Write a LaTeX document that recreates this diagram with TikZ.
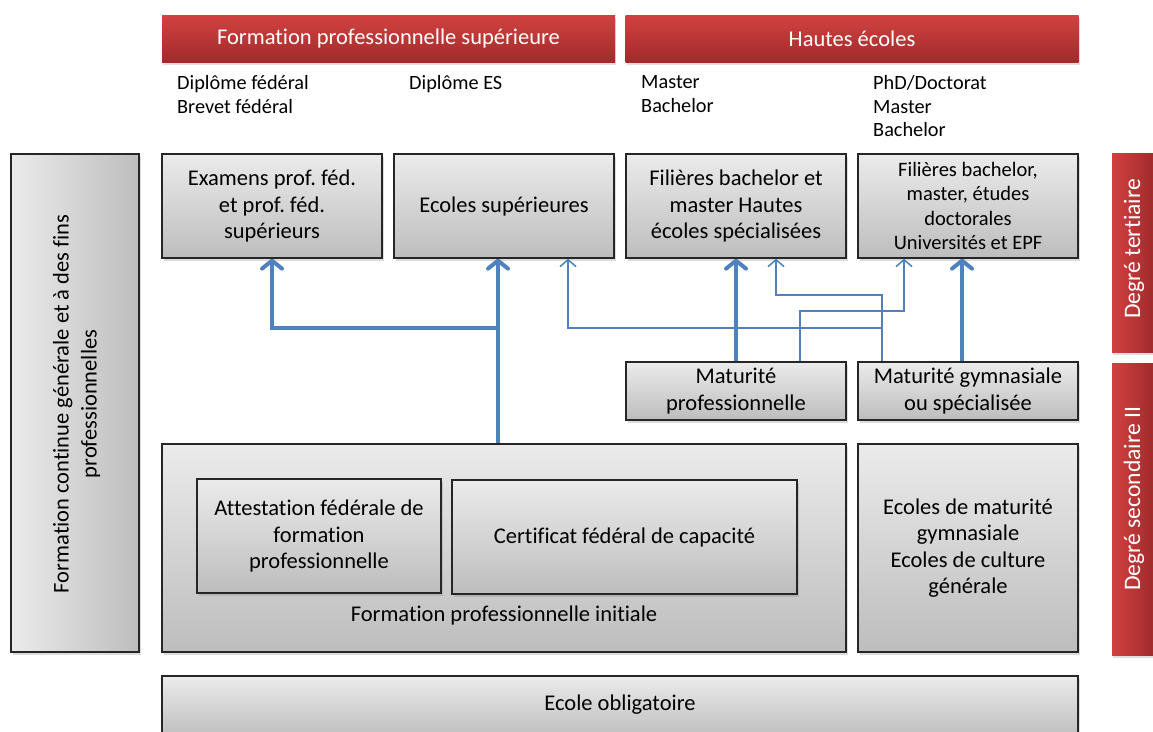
\documentclass[tikz,border=0pt]{standalone}
\usepackage{fontspec}
\setmainfont{Carlito}[Ligatures=NoCommon]
\frenchspacing
\usetikzlibrary{shadows,arrows.meta}
\definecolor{gtop}{HTML}{EBEBEB}
\definecolor{gbot}{HTML}{BDBDBD}
\definecolor{rtop}{HTML}{D24141}
\definecolor{rbot}{HTML}{A22B2B}
\definecolor{ablue}{HTML}{4F81BD}
\begin{document}
\begin{tikzpicture}[x=1pt,y=-1pt,
  every node/.style={font=\fontsize{22.5}{26.5}\selectfont, inner sep=0pt, align=center},
  gbox/.style={draw=black!85, line width=1.3pt, top color=gtop, bottom color=gbot,
    drop shadow={shadow xshift=1.5pt, shadow yshift=-3pt, opacity=0.28}},
  vbox/.style={draw=black!85, line width=1.3pt, left color=gtop, right color=gbot,
    drop shadow={shadow xshift=1.5pt, shadow yshift=-3pt, opacity=0.28}},
  hbar/.style={top color=rtop, bottom color=rbot, text=white,
    drop shadow={shadow xshift=1pt, shadow yshift=-3pt, opacity=0.25}},
  sbar/.style={left color=rtop, right color=rbot,
    drop shadow={shadow xshift=1pt, shadow yshift=-3pt, opacity=0.25}},
  stxt/.style={text=white, font=\fontsize{23.6}{26}\selectfont},
  lbl/.style={align=left, font=\fontsize{20.3}{23.8}\selectfont},
  thk/.style={draw=ablue, line width=4pt, -{Straight Barb[length=8pt,width=20pt,round]}},
  thn/.style={draw=ablue, line width=1.5pt, -{Straight Barb[length=7pt,width=16pt]}},
]
\useasboundingbox (0,0) rectangle (1153,731);
\clip (0,0) rectangle (1153,731);

% header bars
\node[hbar, minimum width=453pt, minimum height=47pt] (hfps) at (388.5,38.5) {Formation professionnelle supérieure};
\node[hbar, minimum width=453pt, minimum height=47pt] (hhe) at (852,38.5) {Hautes écoles};

% degree labels
\node[lbl, anchor=north west] (t1) at (177,75) {Diplôme fédéral\\Brevet fédéral};
\node[lbl, anchor=north west] (t2) at (409,75) {Diplôme ES};
\node[lbl, anchor=north west] (t3) at (641,75) {Master\\Bachelor};
\node[lbl, anchor=north west] (t4) at (873,75) {PhD/Doctorat\\Master\\Bachelor};

% side bars
\node[sbar, minimum width=41pt, minimum height=199pt] (sb1) at (1132.5,252.5) {};
\node[stxt] (sb1t) at (1134,249) {\rotatebox{90}{Degré tertiaire}};
\node[sbar, minimum width=41pt, minimum height=292pt] (sb2) at (1132.5,509) {};
\node[stxt] (sb2t) at (1134,499) {\rotatebox{90}{Degré secondaire II}};

% left box
\node[vbox, minimum width=128pt, minimum height=498pt] (fc) at (75,403) {};
\node (fct) at (77,404) {\rotatebox{90}{\fontsize{22.5}{28}\selectfont\begin{tabular}{@{}c@{}}Formation continue générale et à des fins\\professionnelles\end{tabular}}};

% tertiary boxes
\node[gbox, minimum width=220pt, minimum height=104pt] (ex) at (272,206) {Examens prof. féd.\\et prof. féd.\\supérieurs};
\node[gbox, minimum width=220pt, minimum height=104pt] (es) at (504,206) {Ecoles supérieures};
\node[gbox, minimum width=220pt, minimum height=104pt] (hes) at (736,206) {Filières bachelor et\\master Hautes\\écoles spécialisées};
\node[gbox, minimum width=220pt, minimum height=104pt, font=\fontsize{20.5}{24.5}\selectfont] (uni) at (968,206) {Filières bachelor,\\master, études\\doctorales\\Universités et EPF};

% maturity boxes
\node[gbox, minimum width=220pt, minimum height=58pt] (mp) at (736,391) {Maturité\\professionnelle};
\node[gbox, minimum width=220pt, minimum height=58pt] (mg) at (968,391) {Maturité gymnasiale\\ou spécialisée};

% secondary II
\node[gbox, minimum width=684pt, minimum height=208pt] (fpi) at (504,548) {};
\node (fpil) at (504,615) {Formation professionnelle initiale};
\node[gbox, minimum width=244pt, minimum height=114pt] (att) at (319,536) {Attestation fédérale de\\formation\\professionnelle};
\node[gbox, minimum width=345pt, minimum height=114pt] (cfc) at (624.5,537) {Certificat fédéral de capacité};
\node[gbox, minimum width=220pt, minimum height=208pt] (em) at (968,548) {Ecoles de maturité\\gymnasiale\\Ecoles de culture\\générale};

% compulsory school
\node[gbox, minimum width=916pt, minimum height=62pt] (eo) at (620,707) {};
\node (eol) at (620,705) {Ecole obligatoire};

% connectors
\coordinate (j1) at (498,328);
\coordinate (k1) at (962,0);
\coordinate (c1) at (882,295);
\coordinate (c2) at (776,295);
\coordinate (c3) at (882,328);
\coordinate (c4) at (568,328);
\coordinate (c5) at (800,311);
\coordinate (c6) at (904,311);

\draw[thn] (mg.north -| c1) -- (c1) -- (c2) -- (hes.south -| c2);
\draw[thn] (c3) -- (c4) -- (es.south -| c4);
\draw[thn] (mp.north -| c5) -- (c5) -- (c6) -- (uni.south -| c6);

\draw[thk] (fpi.north -| j1) -- (es.south -| j1);
\draw[thk] (j1) -| (ex.south);
\draw[thk] (mp.north) -- (hes.south);
\draw[thk] (mg.north -| k1) -- (uni.south -| k1);
\end{tikzpicture}
\end{document}
